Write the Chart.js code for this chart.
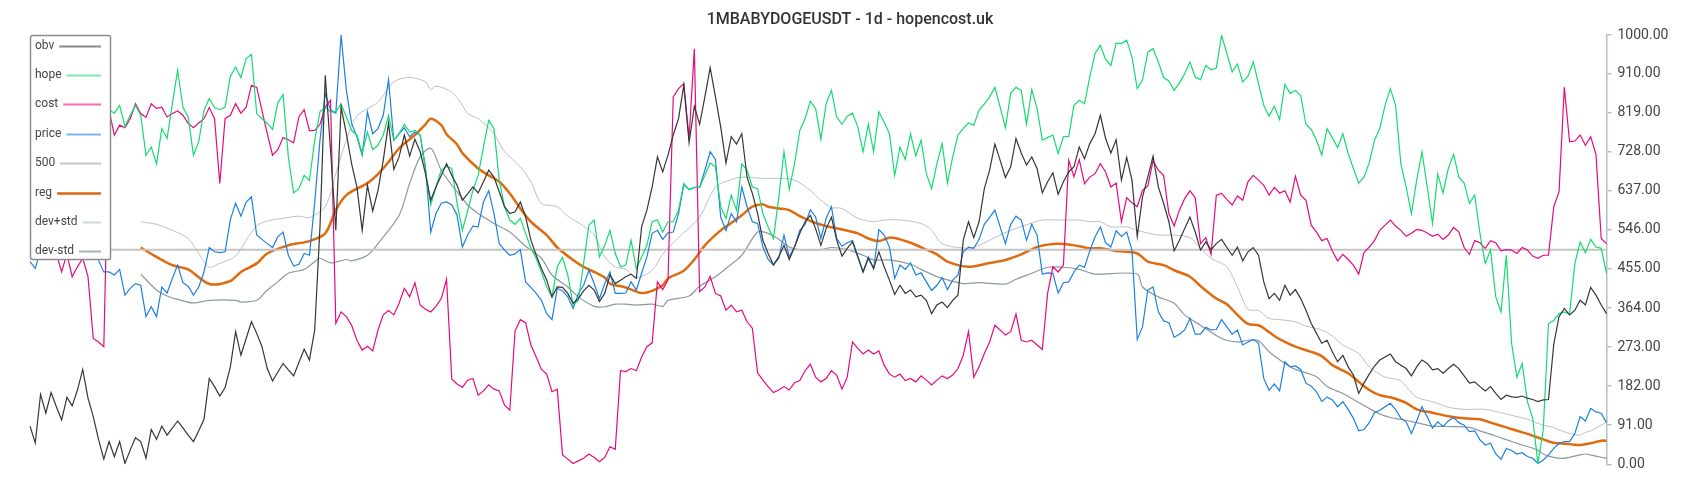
<!DOCTYPE html>
<html>
<head>
<meta charset="utf-8">
<script src="https://cdn.jsdelivr.net/npm/chart.js@4.4.1/dist/chart.umd.min.js"></script>
<style>
html,body{margin:0;padding:0;background:#fff;}
canvas{display:block;}
</style>
</head>
<body>
<canvas id="c" width="1700" height="500"></canvas>
<script>
const N = 300;
const labels = Array.from({length: N}, (_, i) => String(i + 1));

const titleText = '1MBABYDOGEUSDT - 1d - hopencost.uk';
const yTickValues = [0, 91, 182, 273, 364, 455, 546, 637, 728, 819, 910, 1000];
const yTickLabels = ['0.00','91.00','182.00','273.00','364.00','455.00','546.00','637.00','728.00','819.00','910.00','1000.00'];

const obv = [89,50,163,119,167,134,103,156,136,173,
221,154,111,58,12,53,18,53,2,33,
62,53,14,81,58,89,68,84,101,85,
68,53,78,105,200,181,159,179,227,309,
254,293,332,305,274,223,194,215,235,220,
206,237,268,243,313,553,906,732,545,832,
770,700,646,545,650,590,638,708,795,687,
716,767,718,757,728,677,615,646,673,700,
673,650,615,630,646,632,658,685,669,635,
600,584,588,611,576,522,487,456,429,390,
413,412,398,375,386,404,417,406,379,398,
441,421,429,437,443,433,553,592,646,716,
681,720,767,805,883,749,834,792,856,924,
856,786,702,763,746,770,669,631,584,522,
491,464,483,510,477,506,538,565,580,549,
510,549,576,522,485,503,518,483,448,480,
456,495,460,429,396,417,398,406,390,394,
382,351,371,378,365,382,394,522,565,528,
565,642,685,746,708,668,693,759,725,697,
716,689,632,658,679,629,658,681,693,739,
712,747,770,813,759,725,756,662,715,662,
531,623,669,718,646,608,565,497,522,549,
576,541,499,518,500,514,524,505,487,506,
474,495,505,487,425,386,398,382,417,394,
407,386,359,328,305,282,289,262,239,254,
227,208,165,189,210,229,243,250,257,239,
231,223,206,227,243,235,220,223,212,223,
233,223,206,189,192,181,171,181,165,151,
161,157,156,159,154,151,146,150,151,280,
344,363,348,359,382,371,412,394,371,351];

const hope = [null,null,null,null,null,null,null,null,null,null,
null,null,null,null,null,826,818,836,787,813,
836,813,720,739,700,782,759,840,918,832,
809,720,751,825,852,831,826,832,904,925,
901,945,955,817,805,794,780,842,861,716,
632,642,673,661,755,821,832,821,821,839,
809,778,767,724,774,733,743,767,813,755,
770,792,774,778,767,685,604,646,685,694,
689,608,545,590,638,673,739,801,782,662,
600,569,559,573,538,503,480,448,413,390,
460,482,441,371,382,468,557,569,483,510,
545,491,460,464,522,456,483,510,565,569,
541,565,565,592,654,640,645,645,673,702,
693,600,573,627,592,700,685,646,642,584,
553,526,620,728,640,700,778,805,846,829,
757,840,871,809,792,811,818,786,728,792,
728,821,797,770,673,739,710,770,718,755,
677,642,700,747,655,716,767,782,795,790,
825,839,856,878,832,784,864,878,871,792,
873,829,755,761,767,724,763,764,836,848,
840,902,957,976,943,929,981,980,988,949,
875,895,960,968,937,901,893,871,888,910,
937,902,896,929,919,923,999,957,914,932,
891,904,937,887,836,811,834,803,885,864,
871,859,792,780,755,720,782,761,738,770,
724,689,655,669,702,755,782,836,875,836,
700,646,584,662,728,646,561,676,632,689,
722,669,655,608,627,538,468,499,390,355,
487,282,203,235,146,107,2,80,328,335,
351,355,350,468,518,493,524,506,503,445];

const cost = [530,515,540,520,510,490,448,490,437,460,
480,437,293,285,274,824,767,790,784,805,
840,817,808,840,829,832,809,817,823,813,
794,784,795,805,831,805,654,805,813,840,
818,832,883,878,824,770,720,733,761,756,
749,809,826,777,778,792,832,848,328,355,
344,324,289,266,275,264,313,348,358,348,
375,410,390,423,371,361,355,368,386,431,
198,187,179,196,200,161,171,185,175,171,
138,126,311,337,330,278,250,221,210,169,
175,22,12,2,8,14,24,16,6,16,
41,35,218,216,223,218,250,274,283,425,
407,429,856,875,887,759,968,402,413,438,
398,392,359,371,355,359,332,317,213,196,
181,167,173,181,173,190,195,218,233,203,
192,200,218,208,175,203,285,270,257,266,
257,264,231,210,203,210,195,200,192,206,
196,185,196,206,200,208,223,254,309,203,
227,258,285,324,313,301,309,350,289,285,
289,278,268,398,460,448,464,708,670,710,
654,669,677,700,681,646,655,565,621,609,
600,638,648,707,685,673,584,555,592,619,
637,621,514,528,489,627,631,617,604,625,
615,658,673,662,650,627,645,632,637,611,
671,627,615,557,541,521,526,497,474,489,
477,464,443,493,506,521,545,557,569,555,
545,531,538,547,545,539,531,536,524,534,
552,541,505,489,521,516,503,521,516,497,
500,499,491,505,499,485,480,487,487,600,
635,878,751,753,767,743,763,722,526,514];

const price = [472,456,500,530,520,545,560,540,555,530,
545,520,505,475,448,448,441,454,394,410,
421,417,344,367,344,413,399,433,464,423,
415,394,413,448,505,495,493,495,570,608,
578,611,623,534,524,514,505,530,541,487,
462,466,491,487,610,755,864,825,818,1000,
871,794,763,720,821,770,782,813,896,755,
770,784,763,774,767,693,541,584,608,611,
604,580,506,534,555,553,611,637,584,514,
499,487,490,500,425,412,398,382,351,337,
410,404,390,363,398,417,452,421,386,421,
448,398,398,399,425,406,445,483,538,545,
524,539,541,584,652,640,645,645,685,728,
710,576,544,584,565,646,600,565,561,506,
477,464,480,534,483,506,545,559,593,576,
526,573,600,526,508,516,521,485,448,483,
456,547,534,506,433,464,454,469,441,446,
425,405,417,435,407,429,441,495,506,503,
524,559,575,592,553,514,559,578,569,522,
559,534,443,446,445,399,423,425,448,464,
459,497,530,553,516,506,544,531,541,499,
291,320,406,413,355,334,330,296,303,313,
340,303,303,319,313,314,337,320,303,313,
278,285,291,282,200,173,187,171,239,227,
229,221,189,182,169,146,157,150,134,146,
128,107,78,81,97,120,126,134,142,128,
107,99,72,101,134,111,84,99,88,101,
109,97,91,76,78,57,45,49,24,12,
37,32,24,27,18,14,2,10,22,37,
49,53,53,72,111,101,130,122,119,97];

const level500 = 500;

// smooth series: [day index, value] read at points along the curve
const regPts = [[21,505],[24,483],[27,464],[30,454],[34,420],[38,427],[40,448],[43,468],[45,491],[49,510],[53,520],[56,538],[58,592],[60,627],[64,655],[66,676],[68,704],[70,736],[73,767],[75,792],[76,805],[78,790],[79,769],[81,745],[82,725],[85,689],[87,673],[89,658],[91,631],[93,596],[95,565],[98,534],[100,505],[103,476],[105,460],[107,448],[109,435],[110,421],[113,412],[116,399],[118,404],[120,417],[121,433],[124,451],[126,477],[128,510],[131,545],[133,562],[135,580],[137,600],[139,606],[140,600],[142,596],[144,592],[146,578],[149,562],[152,552],[154,547],[157,538],[159,526],[161,520],[163,528],[165,524],[167,516],[170,500],[172,489],[174,472],[178,460],[182,469],[185,476],[188,489],[191,506],[194,513],[196,513],[199,508],[201,503],[203,503],[206,497],[210,491],[212,472],[215,464],[217,452],[220,437],[222,415],[225,386],[227,373],[229,348],[231,327],[233,324],[234,317],[236,299],[238,285],[240,274],[243,262],[245,252],[247,231],[250,212],[252,192],[254,173],[256,161],[258,156],[260,148],[261,143],[263,128],[266,120],[269,112],[272,107],[275,105],[277,97],[280,86],[282,78],[284,71],[287,58],[289,50],[290,49],[292,47],[294,45],[296,49],[298,55],[299,55]];

const devPlusPts = [[21,565],[24,559],[27,545],[30,526],[32,491],[34,459],[36,468],[39,485],[41,522],[43,555],[45,567],[48,573],[51,578],[53,575],[56,600],[58,677],[60,755],[62,811],[66,844],[69,891],[72,901],[75,891],[76,873],[77,881],[80,867],[82,836],[83,817],[85,805],[88,770],[90,728],[93,693],[95,658],[97,608],[100,600],[102,578],[105,555],[107,534],[109,483],[111,460],[113,454],[115,435],[118,452],[120,489],[123,528],[127,576],[130,646],[133,663],[135,669],[139,666],[142,666],[145,662],[148,638],[150,615],[152,598],[154,596],[157,573],[160,565],[162,569],[165,569],[169,561],[171,545],[173,514],[178,503],[180,510],[183,528],[186,545],[190,562],[192,569],[196,569],[199,569],[201,565],[203,565],[205,553],[208,553],[210,545],[214,534],[217,534],[220,528],[222,503],[224,480],[227,460],[229,413],[231,361],[233,358],[235,340],[237,337],[240,332],[242,322],[245,313],[247,299],[249,278],[252,258],[254,227],[256,210],[257,203],[260,195],[261,181],[263,156],[266,146],[269,133],[272,128],[276,128],[279,120],[282,111],[284,105],[287,91],[289,86],[290,80],[292,72],[294,68],[295,74],[296,78],[298,91],[299,99]];

const devMinusPts = [[21,443],[24,406],[26,392],[28,384],[31,376],[34,382],[39,382],[40,378],[43,382],[45,406],[47,425],[49,445],[52,454],[54,472],[55,480],[57,469],[60,477],[61,474],[64,487],[66,514],[70,580],[72,654],[74,716],[76,736],[78,685],[80,650],[82,620],[83,604],[85,584],[88,561],[91,541],[94,508],[97,480],[99,441],[102,413],[104,390],[107,368],[109,367],[111,373],[113,373],[115,371],[118,373],[120,368],[121,382],[125,392],[127,415],[130,437],[132,456],[135,487],[138,541],[140,538],[142,524],[144,506],[146,500],[150,500],[152,505],[155,500],[158,487],[160,476],[163,476],[167,466],[169,454],[172,437],[173,433],[177,421],[180,423],[185,420],[187,431],[190,445],[193,459],[196,459],[199,454],[201,446],[202,443],[210,443],[211,413],[214,390],[217,375],[219,348],[222,324],[226,293],[229,285],[231,289],[233,288],[235,262],[238,235],[240,221],[244,204],[246,181],[249,165],[251,151],[254,130],[256,117],[258,109],[260,105],[263,97],[266,89],[269,88],[273,86],[275,78],[278,66],[281,53],[283,45],[286,33],[287,24],[289,16],[291,14],[294,22],[295,24],[297,19],[299,14]];

const toXY = pts => pts.map(([i, v]) => ({x: labels[i], y: v}));

function line(label, data, color, width, legendColor, legendWidth, extra) {
  return Object.assign({
    label, data, borderColor: color, backgroundColor: color, borderWidth: width,
    pointRadius: 0, pointHoverRadius: 0, tension: 0, fill: false, yAxisID: 'y',
    legendColor, legendWidth
  }, extra || {});
}

const datasets = [
  line('obv', obv, '#363636', 1.2, '#8a8a8a', 2),
  line('hope', hope, '#14db70', 1.2, '#7ee8a9', 2),
  line('cost', cost, '#e40a7f', 1.2, '#ef6fb0', 2),
  line('price', price, '#1d80e0', 1.2, '#7db6ec', 2),
  line('500', [{x: labels[0], y: level500}, {x: labels[N - 1], y: level500}], '#c4c4c4', 2, '#c8c8c8', 2),
  line('reg', toXY(regPts), '#df6b0e', 2.5, '#d9690f', 2.5, {tension: 0.3}),
  line('dev+std', toXY(devPlusPts), '#b9c1c6', 1, '#d2d8dc', 2, {tension: 0.3}),
  line('dev-std', toXY(devMinusPts), '#8d99a1', 1.2, '#aab3b9', 2, {tension: 0.3})
];

const boxLegend = {
  id: 'boxLegend',
  afterDraw(chart) {
    const ctx = chart.ctx;
    ctx.save();
    const x0 = 30.5, y0 = 35.5, w = 80, h = 224;
    ctx.fillStyle = '#ffffff';
    ctx.strokeStyle = '#8c8c8c';
    ctx.lineWidth = 1.5;
    ctx.beginPath();
    if (ctx.roundRect) ctx.roundRect(x0, y0, w, h, 2); else ctx.rect(x0, y0, w, h);
    ctx.fill();
    ctx.stroke();
    ctx.font = '12px Roboto';
    ctx.textBaseline = 'middle';
    ctx.textAlign = 'left';
    chart.data.datasets.forEach((ds, k) => {
      const y = 45.5 + k * 29.4;
      ctx.fillStyle = '#444444';
      ctx.fillText(ds.label, 35, y);
      const tw = ctx.measureText(ds.label).width;
      ctx.strokeStyle = ds.legendColor;
      ctx.lineWidth = ds.legendWidth;
      ctx.beginPath();
      ctx.moveTo(35 + tw + 5, Math.round(y) + 0.5);
      ctx.lineTo(101, Math.round(y) + 0.5);
      ctx.stroke();
    });
    ctx.restore();
  }
};

new Chart(document.getElementById('c'), {
  type: 'line',
  data: { labels, datasets },
  plugins: [boxLegend],
  options: {
    responsive: false,
    animation: false,
    events: [],
    devicePixelRatio: 1,
    layout: { padding: { left: 0, right: 0, top: 0, bottom: 35.7 } },
    plugins: {
      legend: { display: false },
      tooltip: { enabled: false },
      title: {
        display: true, text: titleText, color: '#333333',
        font: { family: 'Roboto', size: 16, weight: '500', lineHeight: 1.125 },
        padding: { top: 11, bottom: 6 }
      }
    },
    scales: {
      x: { type: 'category', display: false },
      yL: {
        type: 'linear', position: 'left', display: true,
        ticks: { display: false }, grid: { display: false, drawTicks: false },
        border: { display: false },
        afterFit: s => { s.width = 30; }
      },
      y: {
        type: 'linear', position: 'right', min: 0, max: 1000,
        afterBuildTicks: s => { s.ticks = yTickValues.map(v => ({ value: v })); },
        ticks: {
          autoSkip: false, padding: 6, color: '#444444',
          font: { family: 'Roboto', size: 14 },
          callback: (v, i) => yTickLabels[i]
        },
        grid: { drawOnChartArea: false, drawTicks: true, tickLength: 5, color: '#b4bec4', lineWidth: 1.5 },
        border: { display: true, color: '#b4bec4', width: 1.5 },
        afterFit: s => { s.width = 93.5; }
      }
    }
  }
});
</script>
</body>
</html>
